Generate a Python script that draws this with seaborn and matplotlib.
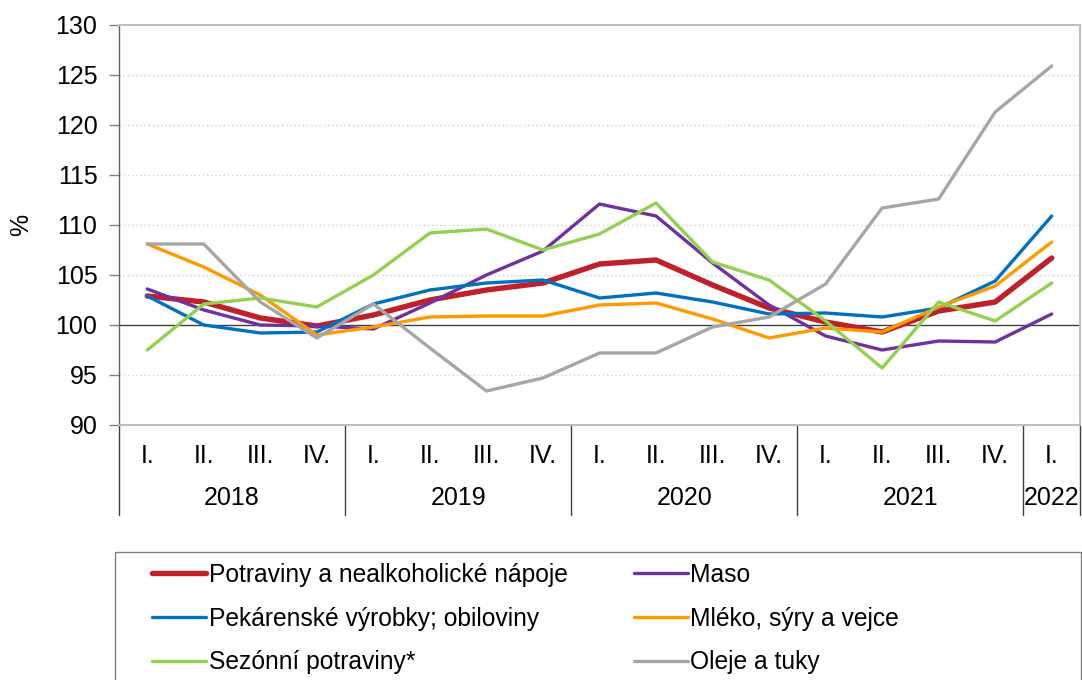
import numpy as np
import pandas as pd
import matplotlib.pyplot as plt
import matplotlib.transforms as mtransforms
from matplotlib.lines import Line2D
from matplotlib.patches import Rectangle
import seaborn as sns

# quarters 2018 I. .. 2022 I.
quarters = ['I.', 'II.', 'III.', 'IV.'] * 4 + ['I.']
years = ['2018', '2019', '2020', '2021', '2022']

series_names = [
    'Potraviny a nealkoholické nápoje',
    'Maso',
    'Pekárenské výrobky; obiloviny',
    'Mléko, sýry a vejce',
    'Sezónní potraviny*',
    'Oleje a tuky',
]

potraviny = [102.9, 102.3, 100.7, 99.9, 101.0, 102.5, 103.5, 104.2, 106.1, 106.5,
             104.0, 101.7, 100.3, 99.3, 101.4, 102.3, 106.7]
maso = [103.6, 101.5, 100.0, 99.9, 99.6, 102.2, 105.0, 107.4, 112.1, 110.9,
        106.2, 102.0, 98.9, 97.5, 98.4, 98.3, 101.1]
pekarenske = [102.9, 100.0, 99.2, 99.3, 102.1, 103.5, 104.2, 104.5, 102.7, 103.2,
              102.3, 101.1, 101.2, 100.8, 101.7, 104.4, 110.9]
mleko = [108.1, 105.8, 103.0, 99.0, 99.8, 100.8, 100.9, 100.9, 102.0, 102.2,
         100.6, 98.7, 99.7, 99.3, 101.8, 103.9, 108.3]
sezonni = [97.5, 102.1, 102.7, 101.8, 105.0, 109.2, 109.6, 107.5, 109.1, 112.2,
           106.3, 104.5, 100.4, 95.7, 102.3, 100.4, 104.2]
oleje = [108.1, 108.1, 102.3, 98.7, 102.1, 97.7, 93.4, 94.7, 97.2, 97.2,
         99.8, 100.8, 104.1, 111.7, 112.6, 121.3, 125.9]

values = [potraviny, maso, pekarenske, mleko, sezonni, oleje]
colors = ['#C0202A', '#7030A0', '#0070C0', '#FF9900', '#92D050', '#A6A6A6']
widths = [3.9, 2.4, 2.4, 2.4, 2.4, 2.4]

rows = []
for name, vals in zip(series_names, values):
    for i, v in enumerate(vals):
        rows.append({'idx': i, 'value': v, 'series': name})
df = pd.DataFrame(rows)

sns.set_theme(style='white')
plt.rcParams['font.family'] = ['Liberation Sans', 'DejaVu Sans']
plt.rcParams['text.color'] = 'black'
plt.rcParams['ytick.labelcolor'] = 'black'
plt.rcParams['axes.labelcolor'] = 'black'

fig = plt.figure(figsize=(10.82, 6.8), dpi=100)
ax = fig.add_axes([119 / 1082, 1 - 425 / 680, (1080 - 119) / 1082, 400 / 680])

sns.lineplot(data=df, x='idx', y='value', hue='series', size='series',
             hue_order=series_names, size_order=series_names,
             palette=dict(zip(series_names, colors)),
             sizes=dict(zip(series_names, widths)),
             legend=False, ax=ax)

ax.set_xlim(-0.5, len(quarters) - 0.5)
ax.set_ylim(90, 130)
ax.set_yticks(range(90, 131, 5))
for y in range(95, 130, 5):
    if y != 100:
        ax.axhline(y, color='#CFCFCF', lw=1, ls=(0, (1, 2)), zorder=0)
ax.axhline(100, color='#404040', lw=1, zorder=1)

ax.set_xticks([])
ax.set_xlabel('')
ax.set_ylabel('%', fontsize=18, labelpad=16, color='black')
ax.tick_params(axis='y', labelsize=18, length=7, width=1, color='#808080',
               labelcolor='black', direction='out', left=True, pad=8.5)
for s in ['top', 'right', 'bottom']:
    ax.spines[s].set_color('#BFBFBF')
    ax.spines[s].set_linewidth(1.5)
ax.spines['left'].set_color('#606060')
ax.spines['left'].set_linewidth(1)

# category axis below the plot
trans = mtransforms.blended_transform_factory(ax.transData, ax.transAxes)
for i, q in enumerate(quarters):
    ax.text(i, -31 / 400, q, transform=trans, ha='center', va='center',
            fontsize=18, color='black')
year_centers = [1.5, 5.5, 9.5, 13.5, 16]
for yc, yr in zip(year_centers, years):
    ax.text(yc, -73 / 400, yr, transform=trans, ha='center', va='center',
            fontsize=18, color='black')
for xb in [-0.5, 3.5, 7.5, 11.5, 15.5, 16.5]:
    ax.plot([xb, xb], [0, -90 / 400], transform=trans, color='#404040',
            lw=1, clip_on=False)

# legend
handles = [Line2D([], [], color=c, lw=w) for c, w in zip(colors, widths)]
order = [0, 2, 4, 1, 3, 5]
fig.legend([handles[i] for i in order], [series_names[i] for i in order],
           ncol=2, frameon=False, loc='upper left',
           bbox_to_anchor=(152 / 1082, 1 - 563 / 680),
           fontsize=17.7, handlelength=2.2, handletextpad=0.1,
           labelspacing=0.8, columnspacing=2.7, borderpad=0, borderaxespad=0,
           labelcolor='black')
fig.add_artist(Rectangle((115 / 1082, -0.1), (1080.5 - 115) / 1082,
                         0.1 + 1 - 552 / 680, transform=fig.transFigure,
                         fill=False, edgecolor='#808080', lw=1))

fig.savefig('out.png', dpi=100)
